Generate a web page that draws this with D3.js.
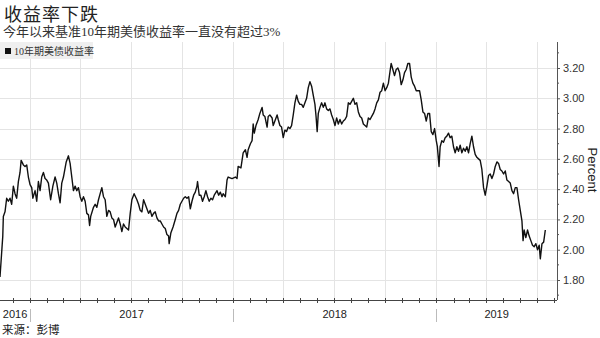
<!DOCTYPE html>
<html>
<head>
<meta charset="utf-8">
<script src="https://cdn.jsdelivr.net/npm/d3@7"></script>
<style>
body{margin:0;background:#fff;}
svg{display:block;}
</style>
</head>
<body>
<div id="chart"></div>
<script>
// 10-year US treasury yield
const dates = [
'2016-11-08','2016-11-13','2016-11-14','2016-11-17','2016-11-20','2016-11-23','2016-11-26','2016-11-29','2016-12-02','2016-12-05',
'2016-12-08','2016-12-11','2016-12-14','2016-12-16','2016-12-20','2016-12-23','2016-12-26','2016-12-29','2017-01-01','2017-01-04',
'2017-01-06','2017-01-10','2017-01-13','2017-01-16','2017-01-19','2017-01-22','2017-01-25','2017-01-28','2017-01-31','2017-02-03',
'2017-02-07','2017-02-11','2017-02-15','2017-02-18','2017-02-21','2017-02-24','2017-02-27','2017-03-02','2017-03-07','2017-03-11',
'2017-03-14','2017-03-16','2017-03-20','2017-03-23','2017-03-26','2017-03-29','2017-04-01','2017-04-04','2017-04-07','2017-04-10',
'2017-04-13','2017-04-16','2017-04-18','2017-04-20','2017-04-25','2017-04-28','2017-05-01','2017-05-04','2017-05-07','2017-05-10',
'2017-05-13','2017-05-16','2017-05-19','2017-05-22','2017-05-25','2017-05-28','2017-05-31','2017-06-03','2017-06-09','2017-06-12',
'2017-06-15','2017-06-18','2017-06-21','2017-06-24','2017-06-27','2017-06-30','2017-07-03','2017-07-07','2017-07-12','2017-07-15',
'2017-07-18','2017-07-21','2017-07-24','2017-07-27','2017-07-30','2017-08-02','2017-08-05','2017-08-08','2017-08-11','2017-08-14',
'2017-08-17','2017-08-20','2017-08-23','2017-08-26','2017-08-29','2017-09-01','2017-09-04','2017-09-07','2017-09-08','2017-09-11',
'2017-09-15','2017-09-19','2017-09-22','2017-09-25','2017-09-28','2017-10-01','2017-10-04','2017-10-07','2017-10-10','2017-10-13',
'2017-10-16','2017-10-19','2017-10-22','2017-10-25','2017-10-28','2017-10-29','2017-11-01','2017-11-04','2017-11-07','2017-11-10',
'2017-11-13','2017-11-16','2017-11-19','2017-11-22','2017-11-25','2017-11-28','2017-12-03','2017-12-06','2017-12-09','2017-12-12',
'2017-12-14','2017-12-18','2017-12-21','2017-12-23','2017-12-30','2018-01-05','2018-01-08','2018-01-10','2018-01-15','2018-01-19',
'2018-01-23','2018-01-26','2018-01-28','2018-02-01','2018-02-04','2018-02-06','2018-02-08','2018-02-11','2018-02-14','2018-02-15',
'2018-02-18','2018-02-22','2018-02-24','2018-02-27','2018-03-03','2018-03-05','2018-03-08','2018-03-12','2018-03-14','2018-03-17',
'2018-03-21','2018-03-23','2018-03-26','2018-03-29','2018-04-01','2018-04-04','2018-04-07','2018-04-10','2018-04-13','2018-04-16',
'2018-04-19','2018-04-22','2018-04-25','2018-04-28','2018-05-01','2018-05-04','2018-05-07','2018-05-10','2018-05-13','2018-05-16',
'2018-05-19','2018-05-22','2018-05-25','2018-05-28','2018-05-30','2018-06-01','2018-06-03','2018-06-06','2018-06-09','2018-06-12',
'2018-06-15','2018-06-18','2018-06-21','2018-06-24','2018-06-27','2018-06-30','2018-07-03','2018-07-06','2018-07-09','2018-07-12',
'2018-07-15','2018-07-18','2018-07-21','2018-07-24','2018-07-27','2018-07-30','2018-08-02','2018-08-05','2018-08-08','2018-08-11',
'2018-08-14','2018-08-17','2018-08-20','2018-08-23','2018-08-26','2018-08-29','2018-09-01','2018-09-04','2018-09-07','2018-09-10',
'2018-09-13','2018-09-16','2018-09-19','2018-09-22','2018-09-25','2018-09-28','2018-10-01','2018-10-04','2018-10-07','2018-10-10',
'2018-10-12','2018-10-15','2018-10-18','2018-10-21','2018-10-24','2018-10-27','2018-10-30','2018-11-02','2018-11-05','2018-11-08',
'2018-11-11','2018-11-14','2018-11-17','2018-11-20','2018-11-23','2018-11-26','2018-11-29','2018-12-02','2018-12-05','2018-12-08',
'2018-12-11','2018-12-14','2018-12-17','2018-12-20','2018-12-23','2018-12-26','2018-12-29','2019-01-01','2019-01-03','2019-01-06',
'2019-01-08','2019-01-11','2019-01-14','2019-01-17','2019-01-20','2019-01-23','2019-01-26','2019-01-29','2019-02-01','2019-02-04',
'2019-02-07','2019-02-10','2019-02-13','2019-02-16','2019-02-19','2019-02-22','2019-02-25','2019-02-28','2019-03-03','2019-03-06',
'2019-03-09','2019-03-12','2019-03-15','2019-03-18','2019-03-21','2019-03-24','2019-03-27','2019-03-30','2019-04-02','2019-04-05',
'2019-04-08','2019-04-11','2019-04-14','2019-04-17','2019-04-20','2019-04-23','2019-04-26','2019-04-29','2019-05-02','2019-05-05',
'2019-05-08','2019-05-11','2019-05-14','2019-05-17','2019-05-20','2019-05-23','2019-05-26','2019-05-29','2019-06-01','2019-06-04',
'2019-06-06','2019-06-08','2019-06-11','2019-06-14','2019-06-17','2019-06-20','2019-06-23','2019-06-26','2019-06-29','2019-07-02',
'2019-07-05','2019-07-07','2019-07-10','2019-07-13','2019-07-16'
];
const yields = [
1.82,2.09,2.22,2.25,2.34,2.32,2.34,2.30,2.42,2.37,
2.34,2.45,2.51,2.59,2.56,2.55,2.56,2.48,2.43,2.41,
2.34,2.39,2.32,2.45,2.39,2.48,2.51,2.47,2.46,2.44,
2.33,2.42,2.48,2.44,2.37,2.31,2.44,2.48,2.58,2.62,
2.57,2.51,2.39,2.42,2.39,2.41,2.35,2.32,2.35,2.32,
2.24,2.23,2.16,2.22,2.28,2.30,2.28,2.33,2.37,2.41,
2.35,2.33,2.22,2.26,2.25,2.21,2.20,2.15,2.21,2.17,
2.12,2.17,2.15,2.14,2.13,2.24,2.33,2.37,2.33,2.30,
2.26,2.25,2.33,2.30,2.27,2.24,2.26,2.22,2.24,2.25,
2.21,2.19,2.19,2.17,2.15,2.14,2.10,2.09,2.04,2.11,
2.15,2.20,2.24,2.26,2.30,2.32,2.34,2.35,2.34,2.35,
2.27,2.32,2.36,2.38,2.42,2.45,2.36,2.36,2.32,2.35,
2.39,2.35,2.32,2.34,2.33,2.36,2.39,2.36,2.38,2.35,
2.37,2.35,2.46,2.48,2.47,2.48,2.47,2.55,2.54,2.64,
2.66,2.61,2.66,2.70,2.72,2.83,2.77,2.82,2.85,2.86,
2.90,2.94,2.89,2.88,2.81,2.88,2.89,2.87,2.82,2.85,
2.89,2.86,2.82,2.81,2.74,2.79,2.78,2.81,2.80,2.82,
2.89,2.97,3.02,2.98,2.96,2.96,2.94,2.97,3.00,3.07,
3.11,3.08,3.02,2.96,2.88,2.78,2.90,2.94,2.97,2.94,
2.97,2.93,2.92,2.93,2.89,2.86,2.82,2.87,2.83,2.86,
2.83,2.85,2.86,2.88,2.97,2.96,2.98,3.00,2.96,2.97,
2.91,2.88,2.87,2.83,2.82,2.81,2.87,2.86,2.88,2.90,
2.93,2.97,2.99,3.04,3.05,3.10,3.05,3.07,3.10,3.18,
3.23,3.19,3.15,3.19,3.20,3.17,3.09,3.12,3.17,3.19,
3.23,3.23,3.14,3.10,3.08,3.05,3.05,3.05,2.99,2.91,
2.90,2.85,2.90,2.90,2.78,2.76,2.80,2.72,2.68,2.55,
2.68,2.72,2.71,2.74,2.75,2.77,2.74,2.75,2.68,2.64,
2.68,2.65,2.69,2.64,2.67,2.65,2.68,2.64,2.70,2.75,
2.68,2.63,2.61,2.60,2.59,2.53,2.41,2.36,2.42,2.49,
2.50,2.47,2.50,2.55,2.58,2.57,2.53,2.52,2.50,2.52,
2.46,2.45,2.44,2.39,2.37,2.41,2.41,2.33,2.26,2.19,
2.06,2.13,2.08,2.13,2.09,2.06,2.03,2.02,2.04,2.00,
2.03,1.94,2.04,2.05,2.13
];
const years = ['2016', '2017', '2018', '2019'];
const yTicks = [1.8, 2.0, 2.2, 2.4, 2.6, 2.8, 3.0, 3.2];
const yMinorTicks = [1.7, 1.9, 2.1, 2.3, 2.5, 2.7, 2.9, 3.1, 3.3];
const xDomain = ['2016-11-08', '2019-08-06'];

const title = '收益率下跌';
const subtitle = '今年以来基准10年期美债收益率一直没有超过3%';
const legendLabel = '10年期美债收益率';
const source = '来源：彭博';

const W = 600, H = 338;
const box = {l:0, r:557, t:42, b:300};

const parseDate = d3.timeParse('%Y-%m-%d');
const data = dates.map(function(d, i){
	return {date: parseDate(d), value: yields[i]};
});

const scaleX = d3.scaleTime()
	.domain(xDomain.map(parseDate))
	.range([box.l, box.r]);
const scaleY = d3.scaleLinear()
	.domain([1.8, 3.2])
	.range([280, 68]);

const svg = d3.select('#chart')
	.append('svg')
	.attr('width', W).attr('height', H)
	.style('font-family', '"Liberation Sans", "Noto Sans CJK SC", sans-serif');

svg.append('rect').attr('width', W).attr('height', H).attr('fill', '#fff');

//gridlines
const quarters = d3.timeMonth.every(3).range(scaleX.domain()[0], scaleX.domain()[1]);
svg.append('g')
	.selectAll('line')
	.data(quarters)
	.join('line')
	.attr('x1', d => Math.round(scaleX(d)) + 0.5)
	.attr('x2', d => Math.round(scaleX(d)) + 0.5)
	.attr('y1', box.t)
	.attr('y2', box.b)
	.style('stroke', '#e4e4e4');

svg.append('g')
	.selectAll('line')
	.data(yTicks)
	.join('line')
	.attr('x1', box.l)
	.attr('x2', box.r)
	.attr('y1', d => Math.round(scaleY(d)) + 0.5)
	.attr('y2', d => Math.round(scaleY(d)) + 0.5)
	.style('stroke', '#e4e4e4');

//legend
const legend = svg.append('g');
legend.append('rect')
	.attr('x', 0).attr('y', 42)
	.attr('width', 93).attr('height', 17)
	.attr('fill', '#efefef');
legend.append('rect')
	.attr('x', 5).attr('y', 48)
	.attr('width', 6).attr('height', 6)
	.attr('fill', '#111');
legend.append('text')
	.attr('x', 14).attr('y', 55)
	.style('font-size', '10px')
	.style('font-family', '"Liberation Serif", "Noto Sans CJK SC", serif')
	.style('fill', '#333')
	.text(legendLabel);

//the line
const line = d3.line()
	.x(d => scaleX(d.date))
	.y(d => scaleY(d.value));

svg.append('path')
	.datum(data)
	.attr('d', line)
	.style('fill', 'none')
	.style('stroke', '#111')
	.style('stroke-width', 1.4)
	.style('stroke-linejoin', 'round');

//right axis
const axisY = d3.axisRight(scaleY)
	.tickValues(yTicks)
	.tickFormat(d3.format('.2f'))
	.tickSize(3)
	.tickPadding(3);

const gy = svg.append('g')
	.attr('transform', `translate(${box.r}, 0)`)
	.call(axisY);
gy.select('.domain').remove();
gy.selectAll('line').style('stroke', '#555');
gy.selectAll('text')
	.style('font-size', '11px')
	.style('fill', '#333')
	.style('font-family', '"Liberation Sans", sans-serif');

gy.selectAll('.minor')
	.data(yMinorTicks.filter(d => scaleY(d) > box.t && scaleY(d) < box.b))
	.join('line')
	.attr('class', 'minor')
	.attr('x2', 2)
	.attr('y1', d => scaleY(d))
	.attr('y2', d => scaleY(d))
	.style('stroke', '#555');

svg.append('line')
	.attr('x1', box.r + 0.5).attr('x2', box.r + 0.5)
	.attr('y1', box.t).attr('y2', box.b)
	.style('stroke', '#555');

svg.append('text')
	.attr('transform', `translate(588, 170) rotate(90)`)
	.attr('text-anchor', 'middle')
	.style('font-size', '13px')
	.style('fill', '#222')
	.text('Percent');

//bottom axis
const months = d3.timeMonth.range(scaleX.domain()[0], scaleX.domain()[1]);
const gx = svg.append('g');
gx.append('line')
	.attr('x1', box.l).attr('x2', box.r)
	.attr('y1', box.b + 0.5).attr('y2', box.b + 0.5)
	.style('stroke', '#444');
gx.selectAll('.tick')
	.data(months)
	.join('line')
	.attr('class', 'tick')
	.attr('x1', d => Math.round(scaleX(d)) + 0.5)
	.attr('x2', d => Math.round(scaleX(d)) + 0.5)
	.attr('y1', box.b - 2)
	.attr('y2', box.b + 3)
	.style('stroke', '#444');

const yearStarts = years.slice(1).map(y => parseDate(y + '-01-01'));
gx.selectAll('.sep')
	.data(yearStarts)
	.join('line')
	.attr('class', 'sep')
	.attr('x1', d => Math.round(scaleX(d)) + 0.5)
	.attr('x2', d => Math.round(scaleX(d)) + 0.5)
	.attr('y1', 309)
	.attr('y2', 322)
	.style('stroke', '#bbb');

gx.selectAll('.year')
	.data(years)
	.join('text')
	.attr('class', 'year')
	.attr('x', function(y){
		const a = d3.max([scaleX.domain()[0], parseDate(y + '-01-01')]);
		const b = d3.min([scaleX.domain()[1], parseDate((+y + 1) + '-01-01')]);
		return (scaleX(a) + scaleX(b)) / 2;
	})
	.attr('y', 318)
	.attr('text-anchor', 'middle')
	.style('font-size', '11px')
	.style('fill', '#222')
	.text(d => d);

//titles
svg.append('text')
	.attr('x', 4).attr('y', 21)
	.style('font-size', '18px')
	.style('letter-spacing', '1px')
	.style('fill', '#222')
	.style('font-family', '"Noto Sans CJK SC", sans-serif')
	.text(title);

svg.append('text')
	.attr('x', 3).attr('y', 36)
	.style('font-size', '13px')
	.style('fill', '#333')
	.style('font-family', '"Liberation Serif", "Noto Sans CJK SC", serif')
	.text(subtitle);

svg.append('text')
	.attr('x', 2).attr('y', 334)
	.style('font-size', '11.5px')
	.style('fill', '#222')
	.style('font-family', '"Noto Sans CJK SC", sans-serif')
	.text(source);
</script>
</body>
</html>
